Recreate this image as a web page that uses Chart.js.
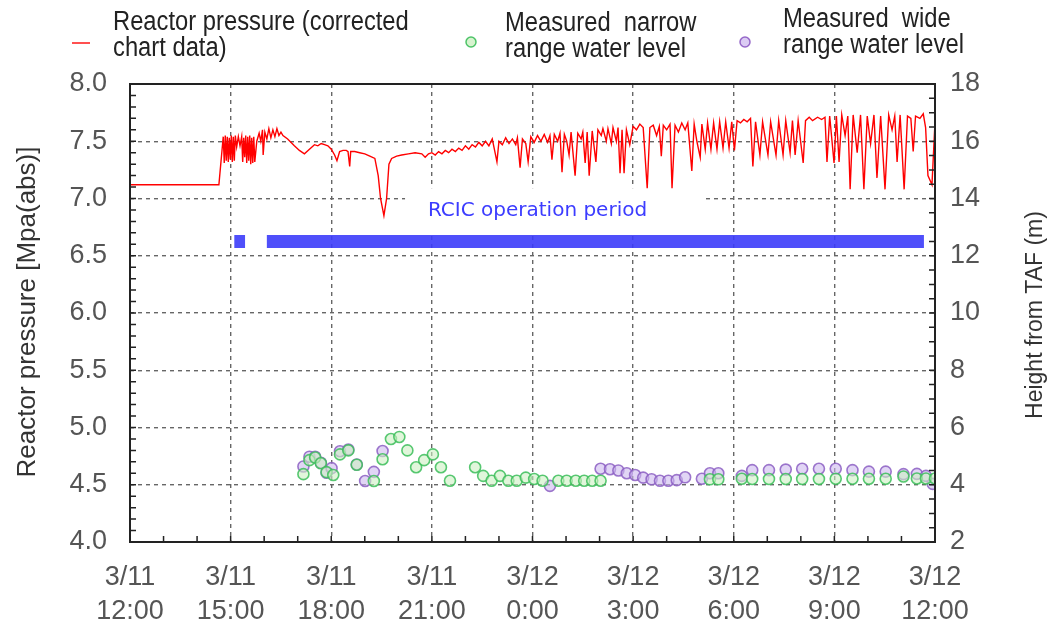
<!DOCTYPE html>
<html>
<head>
<meta charset="utf-8">
<title>Reactor pressure and water level</title>
<script src="https://cdn.jsdelivr.net/npm/chart.js@4.4.1/dist/chart.umd.min.js"></script>
<style>
  html, body { margin: 0; padding: 0; background: #fff; }
  #wrap { width: 1050px; height: 630px; }
</style>
</head>
<body>
<div id="wrap"><canvas id="chart" width="1050" height="630"></canvas></div>
<script>
// ============================================
// DATA - hours after 3/11 12:00
// ============================================

// tick labels on the time axis (two lines each)
const dayLabels = ['3/11', '3/11', '3/11', '3/11', '3/12', '3/12', '3/12', '3/12', '3/12'];
const timeLabels = ['12:00', '15:00', '18:00', '21:00', '0:00', '3:00', '6:00', '9:00', '12:00'];

// reactor pressure [MPa abs] as [hour, value]
const pressure = [
  [0, 7.12], [2.65, 7.12], [2.78, 7.54], [2.81, 7.31], [2.84, 7.55], [2.87, 7.33], [2.9, 7.54],
  [2.93, 7.32], [2.96, 7.53], [2.99, 7.34], [3.02, 7.55], [3.05, 7.32], [3.08, 7.54], [3.11, 7.33],
  [3.14, 7.55], [3.18, 7.45], [3.23, 7.54], [3.28, 7.46], [3.33, 7.54], [3.36, 7.32], [3.39, 7.53],
  [3.42, 7.36], [3.45, 7.55], [3.48, 7.31], [3.51, 7.54], [3.54, 7.33], [3.57, 7.55], [3.6, 7.30],
  [3.63, 7.53], [3.66, 7.31], [3.69, 7.54], [3.72, 7.32], [3.78, 7.50], [3.85, 7.57], [3.90, 7.50],
  [3.95, 7.60], [3.97, 7.38], [4.02, 7.58], [4.08, 7.52], [4.14, 7.61], [4.20, 7.53], [4.26, 7.60],
  [4.32, 7.54], [4.38, 7.61], [4.44, 7.55], [4.50, 7.58], [4.56, 7.55], [4.70, 7.52], [4.90, 7.46],
  [5.05, 7.42], [5.20, 7.39], [5.35, 7.43], [5.50, 7.47], [5.60, 7.46], [5.70, 7.48], [5.80, 7.47],
  [5.90, 7.46], [6.00, 7.43], [6.10, 7.38], [6.17, 7.33], [6.25, 7.41], [6.35, 7.42], [6.45, 7.42],
  [6.50, 7.41], [6.55, 7.28], [6.58, 7.41], [6.70, 7.41], [6.85, 7.40], [7.00, 7.39], [7.15, 7.37],
  [7.30, 7.35], [7.40, 7.20], [7.47, 7.00], [7.57, 6.85], [7.65, 7.00], [7.72, 7.30], [7.80, 7.35],
  [7.95, 7.37], [8.10, 7.38], [8.30, 7.39], [8.50, 7.40], [8.70, 7.39], [8.80, 7.36], [8.90, 7.39],
  [9.00, 7.40], [9.10, 7.38], [9.20, 7.41], [9.30, 7.39], [9.40, 7.42], [9.50, 7.40], [9.60, 7.43],
  [9.70, 7.41], [9.80, 7.44], [9.90, 7.42], [10.0, 7.46], [10.1, 7.43], [10.2, 7.47], [10.3, 7.45],
  [10.4, 7.49], [10.5, 7.46], [10.6, 7.50], [10.7, 7.46], [10.8, 7.52], [10.94, 7.32], [11.0, 7.50],
  [11.1, 7.47], [11.2, 7.53], [11.3, 7.48], [11.4, 7.52], [11.5, 7.47], [11.55, 7.53], [11.63, 7.27],
  [11.7, 7.52], [11.8, 7.48], [11.87, 7.32], [11.95, 7.54], [12.05, 7.49], [12.15, 7.55], [12.25, 7.50],
  [12.35, 7.56], [12.45, 7.49], [12.52, 7.55], [12.58, 7.34], [12.65, 7.56], [12.75, 7.50], [12.82, 7.57],
  [12.88, 7.23], [12.95, 7.56], [13.02, 7.50], [13.09, 7.38], [13.15, 7.58], [13.27, 7.20], [13.35, 7.57],
  [13.45, 7.52], [13.5, 7.58], [13.57, 7.31], [13.63, 7.58], [13.69, 7.20], [13.78, 7.59], [13.89, 7.32],
  [13.95, 7.60], [14.05, 7.55], [14.1, 7.61], [14.2, 7.50], [14.25, 7.61], [14.35, 7.48], [14.4, 7.62],
  [14.5, 7.50], [14.55, 7.62], [14.61, 7.22], [14.67, 7.60], [14.73, 7.22], [14.8, 7.60], [14.9, 7.47],
  [15.0, 7.63], [15.1, 7.60], [15.2, 7.65], [15.3, 7.62], [15.42, 7.09], [15.5, 7.62], [15.6, 7.64],
  [15.7, 7.55], [15.78, 7.63], [15.84, 7.37], [15.9, 7.64], [16.0, 7.60], [16.1, 7.65], [16.16, 7.09],
  [16.25, 7.64], [16.35, 7.58], [16.45, 7.66], [16.55, 7.60], [16.63, 7.66], [16.75, 7.24], [16.82, 7.65],
  [16.9, 7.50], [17.0, 7.36], [17.05, 7.65], [17.15, 7.43], [17.22, 7.66], [17.32, 7.43], [17.4, 7.66],
  [17.5, 7.43], [17.58, 7.67], [17.68, 7.44], [17.76, 7.67], [17.86, 7.44], [17.94, 7.67], [18.02, 7.42],
  [18.1, 7.68], [18.2, 7.66], [18.3, 7.69], [18.4, 7.67], [18.5, 7.70], [18.57, 7.28], [18.65, 7.67],
  [18.78, 7.38], [18.86, 7.67], [19.02, 7.38], [19.1, 7.67], [19.26, 7.38], [19.34, 7.68], [19.47, 7.38],
  [19.55, 7.68], [19.68, 7.40], [19.75, 7.68], [19.83, 7.38], [19.92, 7.68], [20.07, 7.31], [20.14, 7.68],
  [20.25, 7.71], [20.35, 7.68], [20.5, 7.71], [20.62, 7.69], [20.72, 7.71], [20.78, 7.32], [20.86, 7.72],
  [20.99, 7.31], [21.06, 7.72], [21.14, 7.32], [21.22, 7.73], [21.32, 7.55], [21.4, 7.72], [21.47, 7.08],
  [21.56, 7.73], [21.68, 7.40], [21.78, 7.73], [21.88, 7.08], [21.98, 7.72], [22.08, 7.48], [22.18, 7.73],
  [22.27, 7.18], [22.38, 7.72], [22.51, 7.08], [22.62, 7.73], [22.72, 7.60], [22.8, 7.72], [22.87, 7.32],
  [22.96, 7.73], [23.08, 7.08], [23.18, 7.72], [23.28, 7.70], [23.35, 7.41], [23.42, 7.72], [23.55, 7.70],
  [23.65, 7.74], [23.72, 7.62], [23.79, 7.20], [23.91, 7.12], [24, 7.67]
];

// measured narrow range water level [m from TAF]
const narrowLevel = [
  [5.17, 4.37], [5.35, 4.86], [5.52, 4.95], [5.69, 4.75], [5.86, 4.44], [6.06, 4.34], [6.26, 5.06],
  [6.51, 5.20], [6.76, 4.70], [7.27, 4.13], [7.53, 4.89], [7.78, 5.60], [8.03, 5.67], [8.27, 5.20],
  [8.53, 4.61], [8.77, 4.86], [9.03, 5.06], [9.27, 4.61], [9.54, 4.14], [10.29, 4.61], [10.53, 4.31],
  [10.78, 4.14], [11.03, 4.31], [11.28, 4.14], [11.53, 4.14], [11.80, 4.25], [12.05, 4.20], [12.30, 4.14],
  [12.77, 4.14], [13.02, 4.14], [13.29, 4.14], [13.54, 4.14], [13.78, 4.14], [14.03, 4.14], [17.29, 4.19],
  [17.54, 4.19], [18.24, 4.21], [18.55, 4.20], [19.05, 4.20], [19.55, 4.20], [20.04, 4.20], [20.54, 4.20],
  [21.04, 4.21], [21.54, 4.21], [22.03, 4.21], [22.53, 4.21], [23.06, 4.29], [23.46, 4.22], [23.73, 4.22],
  [24.0, 4.22]
];

// measured wide range water level [m from TAF]
const wideLevel = [
  [5.17, 4.64], [5.35, 4.98], [5.52, 4.98], [5.69, 4.77], [5.86, 4.42], [6.01, 4.58], [6.26, 5.17],
  [6.51, 5.23], [6.76, 4.71], [7.01, 4.13], [7.27, 4.45], [7.53, 5.18], [12.52, 3.96], [14.03, 4.56],
  [14.31, 4.54], [14.56, 4.50], [14.81, 4.40], [15.06, 4.34], [15.30, 4.25], [15.55, 4.19], [15.80, 4.14],
  [16.05, 4.14], [16.30, 4.16], [16.55, 4.26], [17.05, 4.21], [17.29, 4.40], [17.54, 4.40], [18.24, 4.31],
  [18.55, 4.51], [19.05, 4.51], [19.55, 4.53], [20.04, 4.56], [20.54, 4.56], [21.04, 4.56], [21.54, 4.51],
  [22.03, 4.46], [22.53, 4.46], [23.06, 4.37], [23.46, 4.38], [23.73, 4.31], [23.93, 4.03]
];

// RCIC operation periods [start hour, end hour], drawn as a band at one pressure level
const rcicStarts = [3.11, 4.08];
const rcicEnds = [3.43, 23.67];
const rcicLevel = 6.625;

// ============================================
// STYLE
// ============================================
const sansFont = "'Liberation Sans', Arial, sans-serif";
const plainFont = "'DejaVu Sans', Verdana, sans-serif";
const tickGrey = '#555';

const toPoints = arr => arr.map(([x, y]) => ({ x, y }));

// building the RCIC band with gaps between periods
const rcicBand = [];
rcicStarts.forEach((s, i) => {
  rcicBand.push({ x: s, y: rcicLevel }, { x: rcicEnds[i], y: rcicLevel }, { x: rcicEnds[i], y: null });
});

// draws text squeezed horizontally (the original uses a condensed face)
function narrowText(ctx, text, x, y, squeeze) {
  ctx.save();
  ctx.translate(x, y);
  ctx.scale(squeeze, 1);
  ctx.fillText(text, 0, 0);
  ctx.restore();
}

// ============================================
// PLUGIN - frame, inward ticks, RCIC label, legend, axis titles
// ============================================
const decorations = {
  id: 'decorations',
  beforeDatasetsDraw(chart) {
    const { ctx, scales: { x, y } } = chart;
    // white patch behind the RCIC label (hides the grid there)
    const left = x.getPixelForValue(8.2), right = x.getPixelForValue(17.08);
    const top = y.getPixelForValue(7.09), bottom = y.getPixelForValue(6.70);
    ctx.save();
    ctx.fillStyle = '#fff';
    ctx.fillRect(left, top, right - left, bottom - top);
    ctx.font = '20px ' + plainFont;
    ctx.fillStyle = '#3c3cff';
    ctx.textAlign = 'center';
    ctx.textBaseline = 'middle';
    ctx.fillText('RCIC operation period', x.getPixelForValue(12.15), y.getPixelForValue(6.89));
    ctx.restore();
  },
  afterDraw(chart) {
    const { ctx, chartArea: a, scales: { x, y, y2 } } = chart;
    ctx.save();
    // inward minor/major ticks
    ctx.strokeStyle = '#222';
    ctx.lineWidth = 1.5;
    ctx.beginPath();
    for (let k = 1; k < 40; k++) {
      const py = y.getPixelForValue(4 + k * 0.1);
      ctx.moveTo(a.left, py); ctx.lineTo(a.left + 6, py);
    }
    for (let k = 1; k < 32; k++) {
      const py = y2.getPixelForValue(2 + k * 0.5);
      ctx.moveTo(a.right, py); ctx.lineTo(a.right - 6, py);
    }
    for (let k = 1; k < 24; k++) {
      const px = x.getPixelForValue(k);
      ctx.moveTo(px, a.bottom); ctx.lineTo(px, a.bottom - 6);
    }
    ctx.stroke();
    // frame
    ctx.lineWidth = 2;
    ctx.strokeRect(a.left, a.top, a.right - a.left, a.bottom - a.top);

    // legend
    ctx.strokeStyle = '#ff5050';
    ctx.lineWidth = 2;
    ctx.beginPath();
    ctx.moveTo(72, 43); ctx.lineTo(90, 43);
    ctx.stroke();
    const marker = (cx, cy, fill, stroke) => {
      ctx.beginPath();
      ctx.arc(cx, cy, 5, 0, Math.PI * 2);
      ctx.fillStyle = fill; ctx.fill();
      ctx.strokeStyle = stroke; ctx.lineWidth = 1.5; ctx.stroke();
    };
    marker(471, 42, 'rgba(205,240,195,0.8)', 'rgba(60,190,90,0.9)');
    marker(745, 42, 'rgba(210,190,240,0.8)', 'rgba(140,90,195,0.9)');
    ctx.fillStyle = '#222';
    ctx.font = '27px ' + sansFont;
    ctx.textAlign = 'left';
    ctx.textBaseline = 'middle';
    narrowText(ctx, 'Reactor pressure (corrected', 113, 23, 0.88);
    narrowText(ctx, 'chart data)', 113, 49, 0.88);
    narrowText(ctx, 'Measured  narrow', 505, 24, 0.88);
    narrowText(ctx, 'range water level', 505, 50, 0.88);
    narrowText(ctx, 'Measured  wide', 783, 20, 0.88);
    narrowText(ctx, 'range water level', 783, 46, 0.88);

    // axis titles
    ctx.fillStyle = '#333';
    ctx.textAlign = 'center';
    ctx.save();
    ctx.font = '26px ' + sansFont;
    ctx.translate(28, 312);
    ctx.rotate(-Math.PI / 2);
    ctx.fillText('Reactor pressure [Mpa(abs)]', 0, 0);
    ctx.restore();
    ctx.save();
    ctx.font = '23px ' + sansFont;
    ctx.translate(1036, 315);
    ctx.rotate(-Math.PI / 2);
    ctx.fillText('Height from TAF (m)', 0, 0);
    ctx.restore();
    ctx.restore();
  }
};

// ============================================
// CHART
// ============================================
const ctx = document.getElementById('chart').getContext('2d');
new Chart(ctx, {
  type: 'scatter',
  data: {
    datasets: [
      {
        label: 'Reactor pressure (corrected chart data)',
        type: 'line',
        data: toPoints(pressure),
        borderColor: '#ff0000',
        borderWidth: 1.4,
        pointRadius: 0,
        tension: 0,
        yAxisID: 'y'
      },
      {
        label: 'RCIC operation period',
        type: 'line',
        data: rcicBand,
        borderColor: 'rgba(60,60,250,0.9)',
        borderWidth: 13,
        borderCapStyle: 'butt',
        pointRadius: 0,
        spanGaps: false,
        yAxisID: 'y'
      },
      {
        label: 'Measured narrow range water level',
        data: toPoints(narrowLevel),
        yAxisID: 'y2',
        pointRadius: 5.5,
        pointBackgroundColor: 'rgba(205,240,195,0.6)',
        pointBorderColor: 'rgba(60,190,90,0.85)',
        pointBorderWidth: 1.6
      },
      {
        label: 'Measured wide range water level',
        data: toPoints(wideLevel),
        yAxisID: 'y2',
        pointRadius: 5.5,
        pointBackgroundColor: 'rgba(205,185,238,0.6)',
        pointBorderColor: 'rgba(140,95,195,0.85)',
        pointBorderWidth: 1.6
      }
    ]
  },
  options: {
    responsive: false,
    animation: false,
    devicePixelRatio: 1,
    layout: { padding: { top: 84, left: 0, right: 0, bottom: 0 } },
    plugins: { legend: { display: false }, tooltip: { enabled: false } },
    scales: {
      x: {
        type: 'linear',
        min: 0, max: 24,
        afterFit: s => { s.height = 88; },
        border: { display: false, dash: [4, 4] },
        grid: { color: '#666', lineWidth: 1.4, drawTicks: false },
        ticks: {
          stepSize: 3, autoSkip: false, maxRotation: 0, padding: 19,
          color: tickGrey,
          font: { family: sansFont, size: 27, lineHeight: 1.25 },
          callback: (v, i) => [dayLabels[i], timeLabels[i]]
        }
      },
      y: {
        position: 'left',
        min: 4, max: 8,
        afterFit: s => { s.width = 130; },
        border: { display: false, dash: [4, 4] },
        grid: { color: '#666', lineWidth: 1.4, drawTicks: false },
        ticks: {
          stepSize: 0.5, padding: 23, color: tickGrey,
          font: { family: sansFont, size: 27 },
          callback: v => v.toFixed(1)
        }
      },
      y2: {
        position: 'right',
        min: 2, max: 18,
        afterFit: s => { s.width = 115; },
        border: { display: false },
        grid: { drawOnChartArea: false, drawTicks: false },
        ticks: {
          stepSize: 2, padding: 15, color: tickGrey,
          font: { family: sansFont, size: 27 }
        }
      }
    }
  },
  plugins: [decorations]
});
</script>
</body>
</html>
